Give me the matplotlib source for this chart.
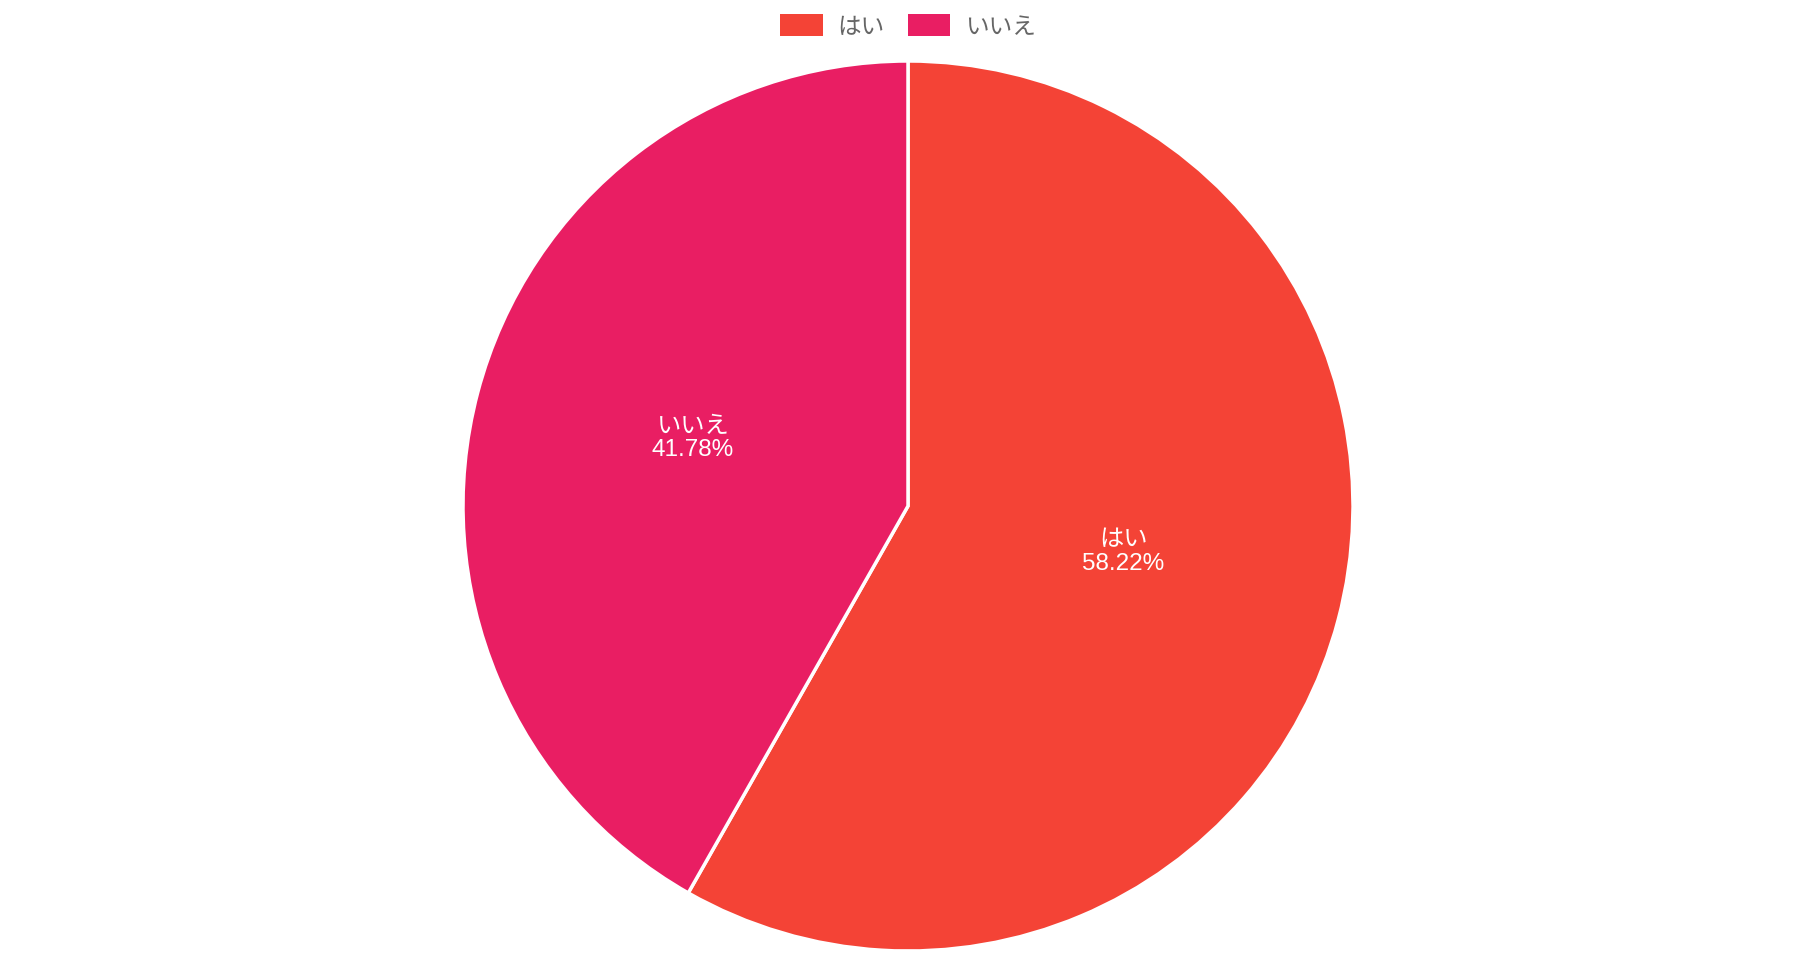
import matplotlib
matplotlib.use("Agg")
import matplotlib.pyplot as plt
from matplotlib.patches import Patch
import numpy as np

plt.rcParams['font.family'] = ['Liberation Sans', 'Noto Sans CJK JP', 'DejaVu Sans']

labels = ["はい", "いいえ"]
values = [58.22, 41.78]
colors = ["#F44336", "#E91E63"]

fig = plt.figure(figsize=(18.11, 9.54), dpi=100)
W, H = 1811, 954
cx, cy, r = 908, 507, 445
ax = fig.add_axes([(cx - r) / W, (H - cy - r) / H, 2 * r / W, 2 * r / H])
wedges, _ = ax.pie(values, colors=colors, startangle=90, counterclock=False,
                   radius=1.0, wedgeprops=dict(edgecolor="white", linewidth=2.5))
for w, lab, v in zip(wedges, labels, values):
    mid = np.deg2rad((w.theta1 + w.theta2) / 2)
    x, y = 0.5 * np.cos(mid), 0.5 * np.sin(mid) + 0.026
    ax.text(x, y, f"{lab}\n{v:.2f}%", ha="center", va="center", color="white",
            fontsize=17.5, linespacing=1.1)
ax.set_xlim(-1, 1)
ax.set_ylim(-1, 1)
ax.set_aspect("equal")
ax.axis("off")

handles = [Patch(facecolor=c, edgecolor="none") for c in colors]
leg = fig.legend(handles, labels, loc="center", bbox_to_anchor=(908 / W, 1 - 27 / H), ncol=2,
                 frameon=False, fontsize=17, labelcolor="#666666", handlelength=1.8,
                 handleheight=1.1, handletextpad=0.6, columnspacing=1.0)
fig.savefig("out.png", dpi=100, facecolor="white")
